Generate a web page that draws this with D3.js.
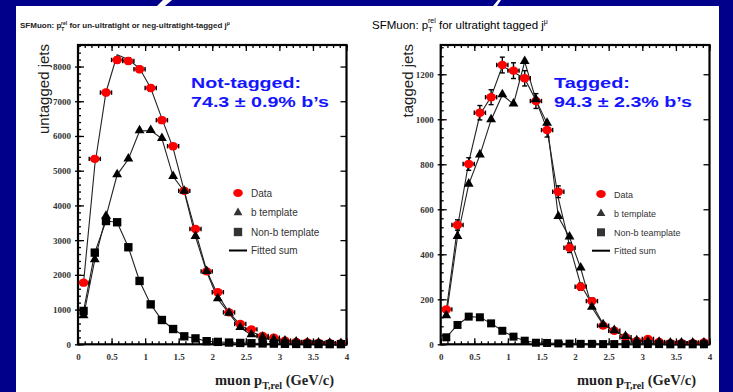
<!DOCTYPE html>
<html><head><meta charset="utf-8">
<script src="https://cdn.jsdelivr.net/npm/d3@7"></script>
<style>body{margin:0;background:#00008a;overflow:hidden} svg{display:block}</style>
</head><body><svg id="c" width="733" height="392"></svg>
<script>
// ---------- data ----------
const binCenters = [0.083,0.25,0.417,0.583,0.75,0.917,1.083,1.25,1.417,1.583,1.75,1.917,
                    2.083,2.25,2.417,2.583,2.75,2.917,3.083,3.25,3.417,3.583,3.75,3.917];
const binHalfWidth = 0.083;

// left: un-ultratight / neg-ultratight tagged
const leftData    = [1775,5340,7250,8190,8160,7920,7380,6455,5705,4420,3320,2100,1500,920,585,430,240,190,105,70,50,40,30,25];
const leftDataErr = [42,73,85,90,90,89,86,80,76,66,58,46,39,30,24,21,15,14,10,8,7,6,5,5];
const leftB       = [815,2430,3680,4880,5330,6145,6155,5925,4830,4400,3100,2090,1305,890,480,270,200,130,90,60,40,30,25,20];
const leftNonB    = [960,2640,3550,3515,2795,1825,1150,700,440,230,170,90,70,50,40,30,25,20,15,10,10,8,5,5];
const leftFit     = [1780,5150,7260,8340,8200,7950,7380,6500,5650,4420,3250,2120,1420,920,560,360,230,160,110,75,55,40,30,25];

// right: ultratight tagged
const rightData    = [155,530,801,1029,1098,1241,1216,1182,1081,952,678,429,256,192,83,60,31,15,24,10,5,5,5,8];
const rightDataErr = [12,23,28,32,33,35,35,34,33,31,26,21,16,14,9,8,6,4,5,3,2,2,2,3];
const rightB       = [126,478,711,841,997,1108,1067,1256,1086,982,567,476,338,164,86,60,34,15,12,8,5,5,5,5];
const rightNonB    = [31,86,123,120,93,60,34,16,7,6,4,3,2,2,1,1,1,1,1,1,0,0,0,0];
const rightFit     = [150,520,810,1020,1100,1235,1210,1180,1085,955,650,440,265,180,90,60,32,18,20,10,6,5,5,6];

const xTicks = [0,0.5,1,1.5,2,2.5,3,3.5,4];
const xTickLabels = ["0","0.5","1","1.5","2","2.5","3","3.5","4"];
const leftYTicks = [0,1000,2000,3000,4000,5000,6000,7000,8000];
const rightYTicks = [0,200,400,600,800,1000,1200];
const legendLeft = ["Data","b template","Non-b template","Fitted sum"];
const legendRight = ["Data","b template","Non-b teamplate","Fitted sum"];

// ---------- drawing ----------
const svg = d3.select("#c");
svg.append("rect").attr("width",733).attr("height",392).attr("fill","#00008a");
svg.append("rect").attr("x",16).attr("y",6).attr("width",703).attr("height",386).attr("fill","#fff");
svg.append("path").attr("d","M157,6 L163,0 L172,0 L165,6 Z").attr("fill","#fff");
svg.append("path").attr("d","M493,6 L498,0 L501,0 L497,6 Z").attr("fill","#fff");

function panel(o){
  const g = svg.append("g");
  const x = d3.scaleLinear().domain([0,4]).range([o.x0,o.x1]);
  const y = d3.scaleLinear().domain([0,o.ymax]).range([o.y0,o.y1]);
  const tickStyle = sel => { sel.select(".domain").remove(); sel.selectAll("line").attr("stroke","#000").attr("stroke-width",1.3); };

  // minor & major ticks
  g.append("g").attr("transform",`translate(0,${o.y0})`).call(d3.axisBottom(x).tickValues(d3.range(0,4.001,0.1)).tickSize(-3).tickFormat("")).call(tickStyle);
  g.append("g").attr("transform",`translate(0,${o.y1})`).call(d3.axisTop(x).tickValues(d3.range(0,4.001,0.1)).tickSize(-3).tickFormat("")).call(tickStyle);
  g.append("g").attr("transform",`translate(${o.x0},0)`).call(d3.axisLeft(y).tickValues(d3.range(0,o.ymax,o.minor)).tickSize(-3).tickFormat("")).call(tickStyle);
  const xa = g.append("g").attr("transform",`translate(0,${o.y0})`)
    .call(d3.axisBottom(x).tickValues(xTicks).tickFormat((d,i)=>xTickLabels[i]).tickSizeInner(-6).tickSizeOuter(0).tickPadding(9)).call(tickStyle);
  xa.selectAll("text").attr("font-family","Liberation Serif").attr("font-size",9).attr("font-weight","bold").attr("fill","#333");
  g.append("g").attr("transform",`translate(0,${o.y1})`).call(d3.axisTop(x).tickValues(xTicks).tickSize(-6).tickFormat("")).call(tickStyle);
  const ya = g.append("g").attr("transform",`translate(${o.x0},0)`)
    .call(d3.axisLeft(y).tickValues(o.yTicks).tickFormat(d3.format("d")).tickSizeInner(3).tickSizeOuter(0).tickPadding(4)).call(tickStyle);
  g.append("g").attr("transform",`translate(${o.x0},0)`).call(d3.axisLeft(y).tickValues(o.yTicks).tickSize(-6).tickFormat("")).call(tickStyle);
  ya.selectAll("text").attr("font-family","Liberation Serif").attr("font-size",9).attr("font-weight","bold").attr("fill","#333");
  g.append("g").attr("transform",`translate(${o.x1},0)`).call(d3.axisRight(y).tickValues(o.yTicks).tickSize(-6).tickFormat("")).call(tickStyle);

  // frame
  g.append("rect").attr("x",o.x0).attr("y",o.y1).attr("width",o.x1-o.x0).attr("height",o.y0-o.y1)
    .attr("fill","none").attr("stroke","#000").attr("stroke-width",2.2);

  const line = d3.line().x((d,i)=>x(binCenters[i])).y(d=>y(d));
  const lineStyle = p => p.attr("fill","none").attr("stroke","#222").attr("stroke-width",1.1);
  g.append("path").datum(o.fit).attr("d",line).call(lineStyle);
  g.append("path").datum(o.b).attr("d",line).call(lineStyle);
  g.append("path").datum(o.nonb).attr("d",line).call(lineStyle);

  // data error bars
  const eb = g.append("g").attr("stroke","#000").attr("stroke-width",1.4);
  o.data.forEach((v,i)=>{
    const cx = x(binCenters[i]), cy = y(v);
    const xl = x(binCenters[i]-binHalfWidth), xr = x(binCenters[i]+binHalfWidth);
    eb.append("line").attr("x1",xl).attr("x2",xr).attr("y1",cy).attr("y2",cy);
    eb.append("line").attr("x1",xl).attr("x2",xl).attr("y1",cy-2.2).attr("y2",cy+2.2);
    eb.append("line").attr("x1",xr).attr("x2",xr).attr("y1",cy-2.2).attr("y2",cy+2.2);
    const yt = y(v+o.err[i]), yb = y(Math.max(0,v-o.err[i]));
    eb.append("line").attr("x1",cx).attr("x2",cx).attr("y1",yt).attr("y2",yb);
    eb.append("line").attr("x1",cx-2.5).attr("x2",cx+2.5).attr("y1",yt).attr("y2",yt);
    eb.append("line").attr("x1",cx-2.5).attr("x2",cx+2.5).attr("y1",yb).attr("y2",yb);
  });
  g.selectAll(".dat").data(o.data).join("ellipse").attr("cx",(d,i)=>x(binCenters[i])).attr("cy",d=>y(d))
    .attr("rx",4.8).attr("ry",4.2).attr("fill","#ff0000");

  const tri = d3.symbol().type(d3.symbolTriangle).size(o.triSize);
  const sq = d3.symbol().type(d3.symbolSquare).size(o.sqSize);
  g.selectAll(".sq").data(o.nonb).join("path").attr("d",sq).attr("fill","#000")
    .attr("transform",(d,i)=>`translate(${x(binCenters[i])},${y(d)})`);
  g.selectAll(".tri").data(o.b).join("path").attr("d",tri).attr("fill","#000")
    .attr("transform",(d,i)=>`translate(${x(binCenters[i])},${y(d)-0.5})`);

  // legend
  const lg = g.append("g").attr("font-family","Arial, Liberation Sans").attr("font-size",o.legFont).attr("fill","#333");
  o.legRows.forEach((ry,i)=>{
    if(i===0) lg.append("ellipse").attr("cx",o.legX).attr("cy",ry).attr("rx",4.8).attr("ry",4).attr("fill","#ff0000");
    if(i===1) lg.append("path").attr("d",d3.symbol().type(d3.symbolTriangle).size(o.triSize*0.8)).attr("transform",`translate(${o.legX},${ry})`);
    if(i===2) lg.append("path").attr("d",d3.symbol().type(d3.symbolSquare).size(o.sqSize)).attr("transform",`translate(${o.legX},${ry})`);
    if(i===3) lg.append("line").attr("x1",o.legX-9).attr("x2",o.legX+9).attr("y1",ry).attr("y2",ry).attr("stroke","#000").attr("stroke-width",2);
    lg.append("text").attr("x",o.legTextX).attr("y",ry+3.5).text(o.legend[i]);
  });

  // annotation
  const an = g.append("g").attr("font-family","Arial, Liberation Sans").attr("font-weight","bold").attr("font-size",15).attr("fill","#1414ff");
  an.append("text").attr("x",o.annX).attr("y",88).attr("textLength",o.annW1).attr("lengthAdjust","spacingAndGlyphs").text(o.ann1);
  an.append("text").attr("x",o.annX).attr("y",106.5).attr("textLength",o.annW2).attr("lengthAdjust","spacingAndGlyphs").text(o.ann2);

  // y label
  g.append("text").attr("transform",`translate(${o.yLabX},44) rotate(-90)`).attr("text-anchor","end")
    .attr("font-family","Arial, Liberation Sans").attr("font-size",15).attr("fill","#222").text(o.yLabel);

  // x label
  const xl = g.append("text").attr("x",o.xLabX).attr("y",385).attr("font-family","Liberation Serif")
    .attr("font-weight","bold").attr("font-size",14.5).attr("fill","#222");
  xl.append("tspan").text("muon p");
  xl.append("tspan").attr("dy",4).attr("font-size",10).text("T,rel");
  xl.append("tspan").attr("dy",-4).text(" (GeV/c)");
}

panel({x0:78,x1:346.5,y0:344.3,y1:45,ymax:8620,minor:200,yTicks:leftYTicks,
  data:leftData,err:leftDataErr,b:leftB,nonb:leftNonB,fit:leftFit,triSize:42,sqSize:70,
  legX:238,legTextX:251,legRows:[193,212.7,232,250.5],legend:legendLeft,legFont:10,
  annX:191,ann1:"Not-tagged:",ann2:"74.3 \u00b1 0.9% b\u2019s",annW1:110,annW2:138,
  yLabX:49,yLabel:"untagged jets",xLabX:215});
panel({x0:440.7,x1:709.5,y0:344.3,y1:45,ymax:1330,minor:40,yTicks:rightYTicks,
  data:rightData,err:rightDataErr,b:rightB,nonb:rightNonB,fit:rightFit,triSize:42,sqSize:64,
  legX:601,legTextX:614,legRows:[194,213.5,232.3,250.7],legend:legendRight,legFont:9,
  annX:554,ann1:"Tagged:",ann2:"94.3 \u00b1 2.3% b\u2019s",annW1:76,annW2:138,
  yLabX:413,yLabel:"tagged jets",xLabX:577});

// titles
const t1 = svg.append("text").attr("x",20).attr("y",28).attr("font-family","Arial, Liberation Sans")
  .attr("font-size",8).attr("font-weight","bold").attr("fill","#222");
t1.append("tspan").text("SFMuon: p");
t1.append("tspan").attr("dy",2.5).attr("font-size",5).text("T");
t1.append("tspan").attr("dx",-3).attr("dy",-6).attr("font-size",5).text("rel");
t1.append("tspan").attr("dy",3.5).text(" for un-ultratight or neg-ultratight-tagged j");
t1.append("tspan").attr("dy",-3).attr("font-size",5).text("\u03bc");

const t2 = svg.append("text").attr("x",372).attr("y",29).attr("font-family","Arial, Liberation Sans")
  .attr("font-size",11.5).attr("fill","#000");
t2.append("tspan").text("SFMuon: p");
t2.append("tspan").attr("dy",3).attr("font-size",7).text("T");
t2.append("tspan").attr("dx",-4.3).attr("dy",-9).attr("font-size",7).text("rel");
t2.append("tspan").attr("dy",6).text(" for ultratight tagged j");
t2.append("tspan").attr("dy",-5).attr("font-size",7).text("\u03bc");
</script></body></html>
